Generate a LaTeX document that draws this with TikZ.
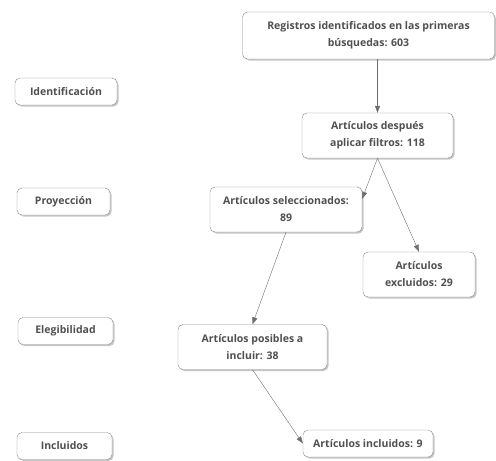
\documentclass[tikz,border=0pt]{standalone}
\usepackage{fontspec}
\setmainfont{Open Sans}
\usepackage{xcolor}
\usepackage{tikz}
\usetikzlibrary{arrows.meta}
\usetikzlibrary{shadows}
\definecolor{boxgray}{HTML}{8A8A8A}
\definecolor{textgray}{HTML}{505050}
\tikzset{
    tnode/.style = {align=center, inner sep=0pt, text centered, text=textgray, font=\fontsize{10.5}{17}\selectfont\bfseries},
    box_node/.style = {tnode, rectangle, rounded corners=5pt, draw=boxgray, fill=white, thin, drop shadow={shadow xshift=1.5pt, shadow yshift=-1.5pt, fill=black!45}},
    stage_node/.style = {box_node, minimum height=27pt},
    link/.style = {->, draw=boxgray!80!black, thin}
}

\begin{document}
\begin{tikzpicture}[x=1pt, y=-1pt, >={Triangle[length=7pt,width=5pt]}]
    \useasboundingbox (0,0) rectangle (496,461);
    % stages
    \node [stage_node, minimum width=102pt] (ident) at (66,91.5) {Identificación};
    \node [stage_node, minimum width=93pt] (proy) at (63.5,201.5) {Proyección};
    \node [stage_node, minimum width=95pt] (eleg) at (65.5,331) {Elegibilidad};
    \node [stage_node, minimum width=95pt] (inclu) at (64.5,446) {Incluidos};
    % flow
    \node [box_node, minimum width=252pt, minimum height=47pt] (reg) at (368.5,35.5) {Registros identificados en las primeras\\búsquedas: 603};
    \node [box_node, minimum width=151pt, minimum height=45pt] (filt) at (377.5,135.5) {Artículos después\\aplicar filtros: 118};
    \node [box_node, minimum width=152pt, minimum height=45pt] (sel) at (286,209.5) {Artículos seleccionados:\\89};
    \node [box_node, minimum width=112pt, minimum height=45pt] (excl) at (419,274.5) {Artículos\\excluidos: 29};
    \node [box_node, minimum width=149pt, minimum height=45pt] (pos) at (252.5,347) {Artículos posibles a\\incluir: 38};
    \node [box_node, minimum width=130pt, minimum height=27pt] (incl) at (368,443.5) {Artículos incluidos: 9};
    \draw [link] (filt.north |- reg.south) -- (filt.north);
    \draw [link] (filt.south) -- (sel.8);
    \draw [link] (filt.south) -- (excl.north);
    \draw [link] (sel.south) -- (pos.north);
    \draw [link] (pos.south) -- (incl.west);
\end{tikzpicture}
\end{document}
